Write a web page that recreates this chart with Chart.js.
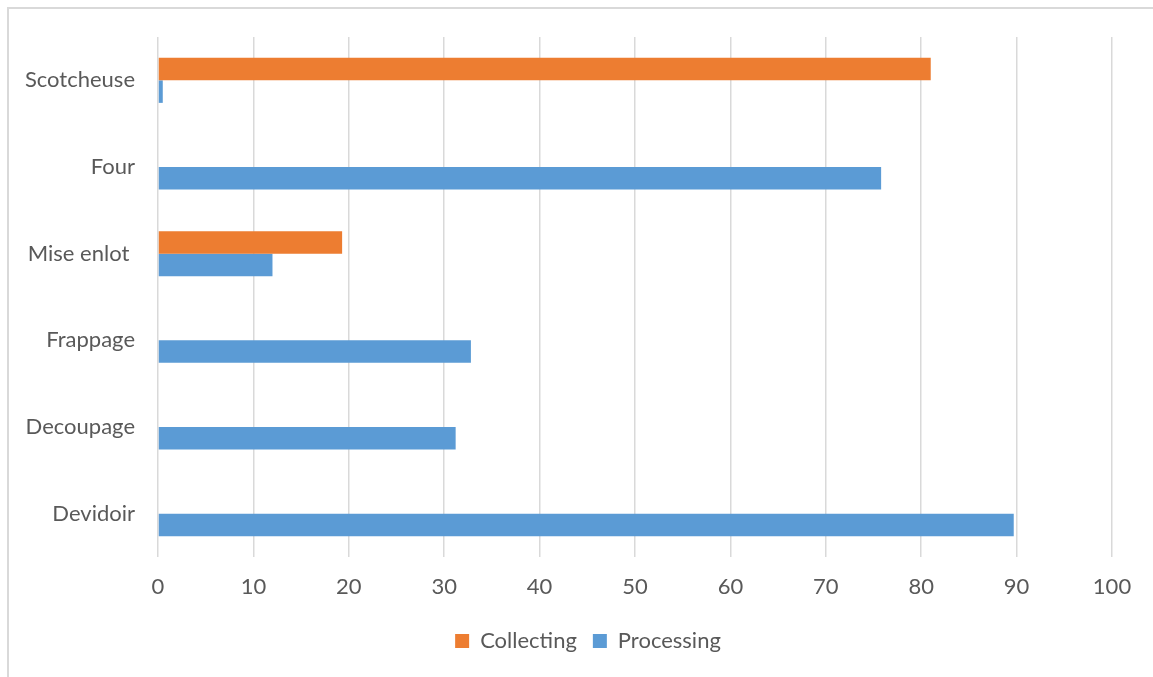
<!DOCTYPE html>
<html>
<head>
<meta charset="utf-8">
<script src="https://cdn.jsdelivr.net/npm/chart.js@4/dist/chart.umd.min.js"></script>
<style>
  html, body { margin: 0; padding: 0; background: #fff; overflow: hidden; }
  #frame { position: absolute; left: 7px; top: 7px; width: 1160px; height: 690px; border: 2px solid #d9d9d9; box-sizing: border-box; }
  #wrap { position: absolute; left: 0; top: 0; width: 1153px; height: 677px; }
</style>
</head>
<body>
<div id="frame"></div>
<div id="wrap"><canvas id="machines-chart"></canvas></div>
<script>
// categories, top to bottom
const machines = ['Scotcheuse', 'Four', 'Mise enlot ', 'Frappage', 'Decoupage', 'Devidoir'];
const collectingValues = [81.0, null, 19.3, null, null, null];
const processingValues = [0.5, 75.8, 12.0, 32.8, 31.2, 89.7];
const xTicks = [0, 10, 20, 30, 40, 50, 60, 70, 80, 90, 100];

const chartColors = {
    orange: '#ED7D31',
    blue: '#5B9BD5',
    text: '#595959',
    grid: '#d9d9d9'
};

const fontFamily = 'Lato, "Liberation Sans", sans-serif';

// legend sits a bit right of the canvas centre, like the original
const legendShift = {
    id: 'legendShift',
    afterLayout(chart) {
        if (chart.legend) chart.legend.left = 64;
    }
};

const ctx = document.getElementById('machines-chart').getContext('2d');
new Chart(ctx, {
    type: 'bar',
    data: {
        labels: machines,
        datasets: [
            { label: 'Collecting', data: collectingValues, backgroundColor: chartColors.orange },
            { label: 'Processing', data: processingValues, backgroundColor: chartColors.blue }
        ]
    },
    options: {
        indexAxis: 'y',
        responsive: true,
        maintainAspectRatio: false,
        animation: false,
        datasets: { bar: { categoryPercentage: 0.52, barPercentage: 1.0 } },
        layout: { padding: { top: 37, right: 41, bottom: 15, left: 0 } },
        scales: {
            x: {
                min: 0, max: 100,
                afterBuildTicks: scale => { scale.ticks = xTicks.map(v => ({ value: v })); },
                afterFit: scale => { scale.height = 57; },
                border: { display: false },
                grid: { color: chartColors.grid, lineWidth: 1.5, drawTicks: false },
                ticks: { color: chartColors.text, font: { family: fontFamily, size: 22 }, padding: 17 }
            },
            y: {
                afterFit: scale => { scale.width = 158; },
                border: { display: false },
                grid: { display: false, drawTicks: false },
                ticks: { color: chartColors.text, font: { family: fontFamily, size: 22 }, padding: 23 }
            }
        },
        plugins: {
            legend: {
                position: 'bottom',
                labels: {
                    color: chartColors.text,
                    font: { family: fontFamily, size: 22 },
                    boxWidth: 14, boxHeight: 14, padding: 16
                }
            },
            tooltip: { enabled: false }
        }
    },
    plugins: [legendShift]
});
</script>
</body>
</html>
